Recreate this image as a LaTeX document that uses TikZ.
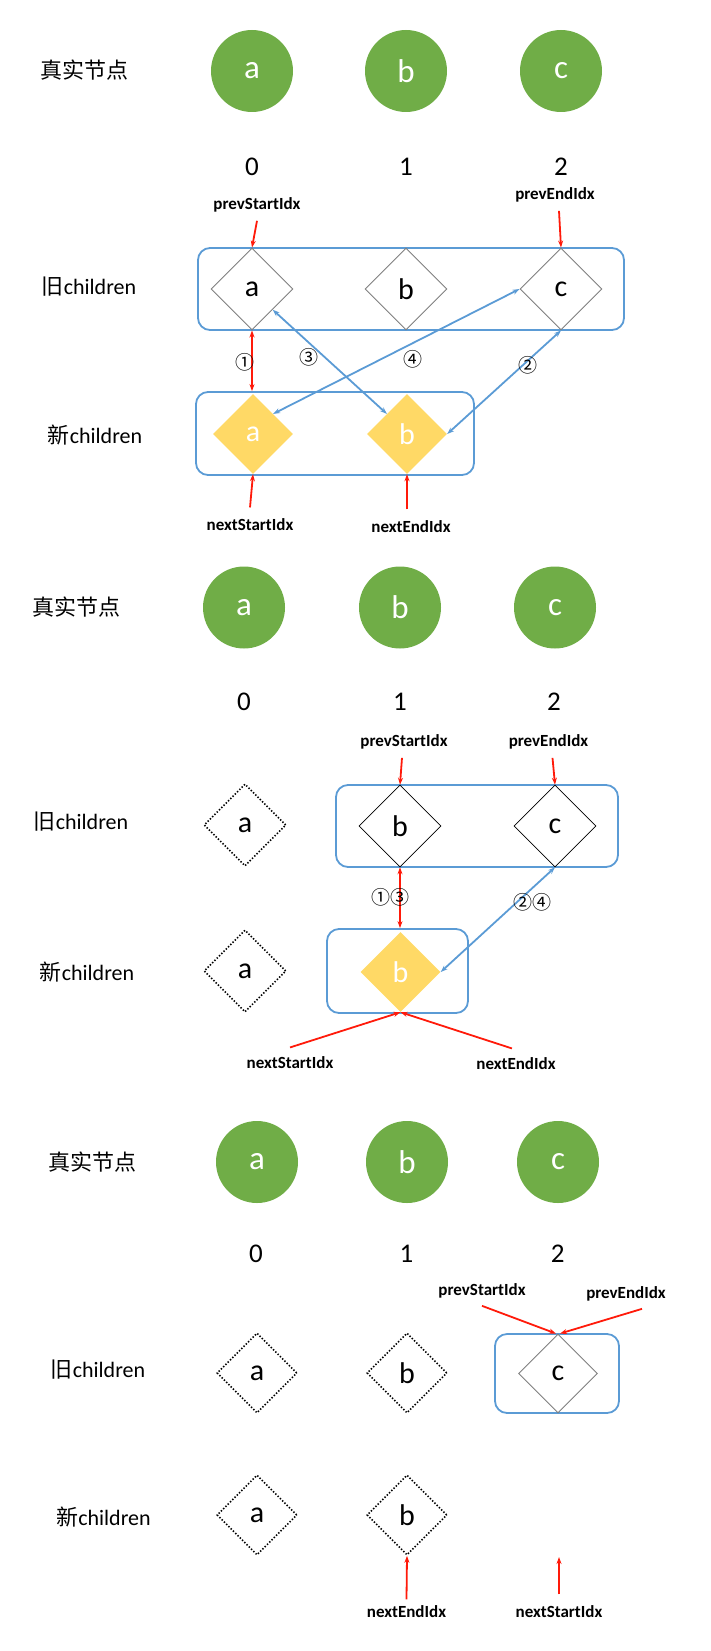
\documentclass[tikz,border=0pt]{standalone}
\usepackage{fontspec}
\setmainfont{Carlito}
\newfontfamily\cjk{Noto Sans CJK SC}
\usetikzlibrary{shapes.geometric,arrows.meta}
\definecolor{nodegreen}{HTML}{70AD47}
\definecolor{diayellow}{HTML}{FFD966}
\definecolor{boxblue}{HTML}{5B9BD5}
\definecolor{arrred}{HTML}{FF1A0A}
\definecolor{diagray}{HTML}{7F7F7F}
\begin{document}
\begin{tikzpicture}[x=1pt,y=-1pt,
 lbl/.style={font=\fontsize{22}{24}\selectfont},
 real/.style={circle,fill=nodegreen,minimum size=82pt,inner sep=0pt,text=white,font=\fontsize{33}{33}\selectfont},
 idx/.style={font=\fontsize{27}{27}\selectfont},
 dia/.style={diamond,minimum size=82pt,inner sep=0pt,font=\fontsize{30}{30}\selectfont},
 odia/.style={dia,draw=diagray,line width=0.9pt},
 bdia/.style={dia,draw=black,line width=0.6pt},
 dotdia/.style={dia,draw=black,line width=1.6pt,dash pattern=on 1.4pt off 1.8pt},
 ydia/.style={dia,fill=diayellow,minimum size=80pt,text=white},
 grp/.style={draw=boxblue,line width=1.8pt,rounded corners=12pt,inner sep=0pt},
 ptr/.style={draw=arrred,line width=1.8pt,-{Stealth[length=7pt,width=5pt]}},
 red2/.style={draw=arrred,line width=1.8pt,{Stealth[length=7pt,width=5pt]}-{Stealth[length=7pt,width=5pt]}},
 blue2/.style={draw=boxblue,line width=1.8pt,{Stealth[length=7pt,width=5pt]}-{Stealth[length=7pt,width=5pt]}},
 ptrlbl/.style={font=\bfseries\fontsize{17}{18}\selectfont},
 num/.style={font=\cjk\fontsize{19}{19}\selectfont}
]
\useasboundingbox (0,0) rectangle (710,1651);
% ===== Section 1 =====
\node[lbl,font=\cjk\fontsize{22}{24}\selectfont] (t1) at (84,70) {真实节点};
\node[real] (r1a) at (252,71) {a};
\node[real] (r1b) at (406,71) {b};
\node[real] (r1c) at (561,71) {c};
\node[idx] (i1a) at (252,167) {0};
\node[idx] (i1b) at (406,167) {1};
\node[idx] (i1c) at (561,167) {2};
\node[grp,minimum width=426pt,minimum height=82pt] (ob1) at (411,289) {};
\node[lbl] (ol1) at (89,287) {{\cjk 旧}children};
\node[odia] (o1a) at (252,289) {a};
\node[odia] (o1b) at (406,289) {b};
\node[odia] (o1c) at (561,289) {c};
\node[grp,minimum width=278pt,minimum height=83pt] (nb1) at (335,433.5) {};
\node[ydia] (n1a) at (253,434) {a};
\node[ydia] (n1b) at (407,434) {b};
\node[lbl] (nl1) at (95,435) {{\cjk 新}children};
\node[ptrlbl] (ps1) at (257,205) {prevStartIdx};
\node[ptrlbl] (pe1) at (555,195) {prevEndIdx};
\draw[ptr] ([yshift=-5pt]ps1.south) -- (o1a.north);
\draw[ptr] ([yshift=-5pt,xshift=4pt]pe1.south) -- (o1c.north);
\draw[red2] (o1a.south) -- (o1a.south |- nb1.north);
\draw[blue2] (o1a.south east) -- (n1b.north west);
\draw[blue2] (o1c.west) -- (n1a.north east);
\draw[blue2] (o1c.south) -- (n1b.east);
\node[num] (c11) at (245,362) {①};
\node[num] (c13) at (309,357) {③};
\node[num] (c14) at (413,359) {④};
\node[num] (c12) at (528,365) {②};
\node[ptrlbl] (ns1) at (250,525) {nextStartIdx};
\node[ptrlbl] (ne1) at (411,527) {nextEndIdx};
\draw[ptr] ([yshift=8pt]ns1.north) -- (n1a.south);
\draw[ptr] ([yshift=8pt,xshift=-4pt]ne1.north) -- (n1b.south);
% ===== Section 2 =====
\node[lbl,font=\cjk\fontsize{22}{24}\selectfont] (t2) at (76,607) {真实节点};
\node[real] (r2a) at (244,607.5) {a};
\node[real] (r2b) at (400,607.5) {b};
\node[real] (r2c) at (555,607.5) {c};
\node[idx] (i2a) at (244,702) {0};
\node[idx] (i2b) at (400,702) {1};
\node[idx] (i2c) at (554,702) {2};
\node[grp,minimum width=282pt,minimum height=82pt] (ob2) at (477,826) {};
\node[lbl] (ol2) at (81,822) {{\cjk 旧}children};
\node[dotdia] (o2a) at (245,825) {a};
\node[bdia] (o2b) at (400,826) {b};
\node[bdia] (o2c) at (555,826) {c};
\node[grp,minimum width=141pt,minimum height=84pt] (nb2) at (397.5,971) {};
\node[dotdia] (n2a) at (245,971) {a};
\node[ydia] (n2b) at (400.5,972) {b};
\node[lbl] (nl2) at (87,972) {{\cjk 新}children};
\node[ptrlbl] (ps2) at (404,742) {prevStartIdx};
\node[ptrlbl] (pe2) at (548.5,742) {prevEndIdx};
\draw[ptr] ([yshift=-5pt,xshift=-2pt]ps2.south) -- (o2b.north);
\draw[ptr] ([yshift=-5pt,xshift=4pt]pe2.south) -- (o2c.north);
\draw[red2] (o2b.south) -- (o2b.south |- nb2.north);
\draw[blue2] (o2c.south) -- (n2b.east);
\node[num] (c213) at (390.5,897) {①③};
\node[num] (c224) at (532,902) {②④};
\node[ptrlbl] (ns2) at (290,1063) {nextStartIdx};
\node[ptrlbl] (ne2) at (516,1064) {nextEndIdx};
\draw[ptr] ([yshift=6pt]ns2.north) -- (n2b.south);
\draw[ptr] ([yshift=6pt,xshift=-4pt]ne2.north) -- (n2b.south);
% ===== Section 3 =====
\node[lbl,font=\cjk\fontsize{22}{24}\selectfont] (t3) at (92,1162) {真实节点};
\node[real] (r3a) at (257,1162) {a};
\node[real] (r3b) at (407,1162) {b};
\node[real] (r3c) at (558,1162) {c};
\node[idx] (i3a) at (256,1254) {0};
\node[idx] (i3b) at (406.5,1254) {1};
\node[idx] (i3c) at (557.6,1254) {2};
\node[grp,minimum width=124pt,minimum height=79pt] (ob3) at (557,1373.5) {};
\node[lbl] (ol3) at (98,1370) {{\cjk 旧}children};
\node[dotdia,minimum size=80pt] (o3a) at (257,1373) {a};
\node[dotdia,minimum size=80pt] (o3b) at (407,1373) {b};
\node[odia,minimum size=79pt] (o3c) at (558,1373.5) {c};
\node[dotdia,minimum size=80pt] (n3a) at (257,1515) {a};
\node[dotdia,minimum size=80pt] (n3b) at (407,1515) {b};
\node[lbl] (nl3) at (103.5,1517) {{\cjk 新}children};
\node[ptrlbl] (ps3) at (482,1291) {prevStartIdx};
\node[ptrlbl] (pe3) at (626,1294) {prevEndIdx};
\draw[ptr] ([yshift=-4pt]ps3.south) -- ([xshift=-2pt]o3c.north);
\draw[ptr] ([yshift=-4pt,xshift=16pt]pe3.south) -- ([xshift=2pt]o3c.north);
\node[ptrlbl] (ne3) at (406.5,1612) {nextEndIdx};
\node[ptrlbl] (ns3) at (559,1612) {nextStartIdx};
\coordinate (e3) at (559,1557);
\draw[ptr] ([yshift=3pt]ne3.north) -- (n3b.south);
\draw[ptr] ([yshift=8pt]ns3.north) -- (e3);
\end{tikzpicture}
\end{document}
